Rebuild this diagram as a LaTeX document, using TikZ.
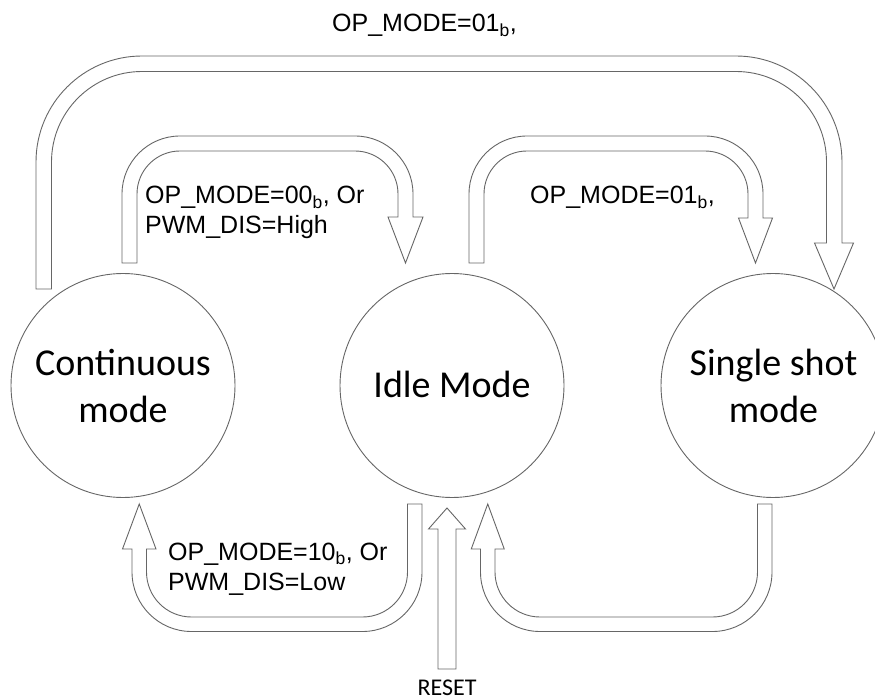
\documentclass[tikz,border=0pt]{standalone}
\usepackage{fontspec}
\setmainfont{Liberation Sans}
\newfontfamily\calibri{Carlito}
\begin{document}
\begin{tikzpicture}[x=1pt,y=-1pt,
  blockarrow/.style={draw=black!60, line width=0.9pt, line join=miter, fill=white},
  state/.style={circle, draw=black!60, line width=0.9pt, minimum size=224pt, inner sep=0pt},
  statetext/.style={font=\calibri\fontsize{38}{47}\selectfont, inner sep=0pt},
  cond/.style={font=\fontsize{25}{30}\selectfont, inner sep=0pt}]
\useasboundingbox (0,0) rectangle (875,700);

% states
\node[state] (cont) at (123,385.5) {};
\node[state] (idle) at (452,385.5) {};
\node[state] (single) at (773,385.5) {};
\node[statetext, anchor=base] (contt) at (123,375) {\begin{tabular}[t]{@{}c@{}}Continuous\\mode\end{tabular}};
\node[statetext, anchor=base] (idlet) at (452,397) {Idle Mode};
\node[statetext, anchor=base] (singlet) at (773.5,375) {\begin{tabular}[t]{@{}c@{}}Single shot\\mode\end{tabular}};

% big arrow: Continuous -> Single shot
\draw[blockarrow] (36,289) -- (36,162) arc[start angle=180, end angle=270, radius=106]
  -- (736,56) arc[start angle=270, end angle=360, radius=106]
  -- (842,243) -- (853.5,243) -- (834,289) -- (814.5,243) -- (826.5,243)
  -- (826.5,162) arc[start angle=0, end angle=-90, radius=90.5]
  -- (142,71.5) arc[start angle=270, end angle=180, radius=90.5]
  -- (51.5,289) -- cycle;

% Continuous -> Idle
\draw[blockarrow] (122,263) -- (122,194) arc[start angle=180, end angle=270, radius=58]
  -- (355,136) arc[start angle=270, end angle=360, radius=58]
  -- (413,217) -- (423,217) -- (405.5,263) -- (388,217) -- (398,217)
  -- (398,194) arc[start angle=0, end angle=-90, radius=43]
  -- (180,151) arc[start angle=270, end angle=180, radius=43]
  -- (137,263) -- cycle;

% Idle -> Single shot
\draw[blockarrow] (469,263) -- (469,194) arc[start angle=180, end angle=270, radius=58]
  -- (705,136) arc[start angle=270, end angle=360, radius=58]
  -- (763,218) -- (772.5,218) -- (755.5,263) -- (738.5,218) -- (748,218)
  -- (748,194) arc[start angle=0, end angle=-90, radius=43]
  -- (527,151) arc[start angle=270, end angle=180, radius=43]
  -- (484,263) -- cycle;

% Idle -> Continuous
\draw[blockarrow] (407.5,504) -- (422,504) -- (422,572) arc[start angle=0, end angle=90, radius=59.5]
  -- (191.5,631.5) arc[start angle=90, end angle=180, radius=59.5]
  -- (132,549) -- (122.5,549) -- (139.25,504) -- (156,549) -- (146.5,549)
  -- (146.5,572) arc[start angle=180, end angle=90, radius=45]
  -- (362.5,617) arc[start angle=90, end angle=0, radius=45]
  -- cycle;

% Single shot -> Idle
\draw[blockarrow] (757.5,504) -- (772,504) -- (772,572) arc[start angle=0, end angle=90, radius=59.5]
  -- (540,631.5) arc[start angle=90, end angle=180, radius=59.5]
  -- (480.5,549) -- (471.25,549) -- (487.75,504) -- (504.25,549) -- (495,549)
  -- (495,572) arc[start angle=180, end angle=90, radius=45]
  -- (712.5,617) arc[start angle=90, end angle=0, radius=45]
  -- cycle;

% reset arrow
\draw[blockarrow] (438,669) -- (438,529) -- (428.5,529) -- (447,508) -- (465.5,529)
  -- (456,529) -- (456,669) -- cycle;

% labels
\node[cond, anchor=base west] (c1) at (332,32) {OP\_MODE=01\textsubscript{b},};
\node[cond, anchor=base west] (c2) at (145,204) {\begin{tabular}[t]{@{}l@{}}OP\_MODE=00\textsubscript{b}, Or\\PWM\_DIS=High\end{tabular}};
\node[cond, anchor=base west] (c3) at (530,204) {OP\_MODE=01\textsubscript{b},};
\node[cond, anchor=base west] (c4) at (168,560) {\begin{tabular}[t]{@{}l@{}}OP\_MODE=10\textsubscript{b}, Or\\PWM\_DIS=Low\end{tabular}};
\node[font=\calibri\fontsize{24}{29}\selectfont, anchor=base, inner sep=0pt] (reset) at (447,695) {RESET};
\end{tikzpicture}
\end{document}
